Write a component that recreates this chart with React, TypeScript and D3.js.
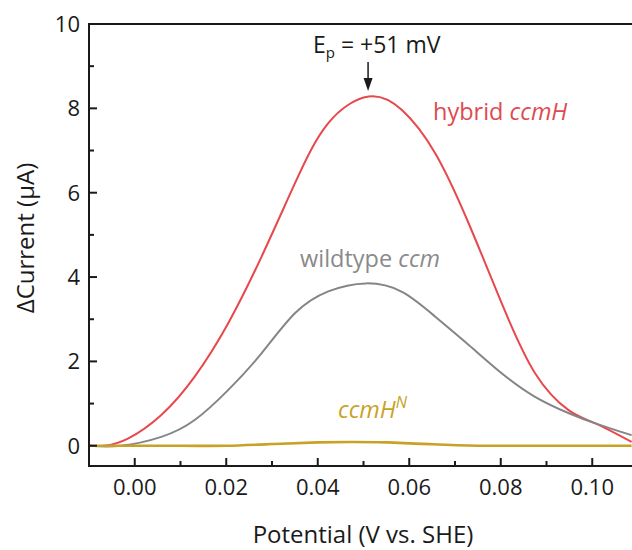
import React from "react";
import * as d3 from "d3";

// hybrid ccmH (red)
const hybridX = [-0.01, -0.0066, -0.0015, 0.0058, 0.0131, 0.0204, 0.0277, 0.035, 0.0423, 0.0511, 0.0584, 0.0657, 0.073, 0.0802, 0.0875, 0.0949, 0.1007, 0.1086];
const hybridY = [0, 0, 0.17, 0.73, 1.64, 2.9, 4.48, 6.22, 7.65, 8.28, 7.96, 6.93, 5.27, 3.38, 1.72, 0.84, 0.53, 0.09];
// wildtype ccm (gray)
const wildX = [-0.01, -0.003, 0.0058, 0.0131, 0.0204, 0.0277, 0.035, 0.0423, 0.0505, 0.0584, 0.0657, 0.073, 0.0802, 0.0875, 0.0949, 0.1007, 0.1086];
const wildY = [0, 0, 0.21, 0.61, 1.32, 2.19, 3.14, 3.66, 3.85, 3.65, 3.06, 2.39, 1.72, 1.16, 0.77, 0.53, 0.25];
// ccmH^N (gold)
const nX = [-0.01, 0.01, 0.02, 0.03, 0.04, 0.047, 0.055, 0.065, 0.075, 0.09, 0.1086];
const nY = [0, 0, 0, 0.04, 0.08, 0.09, 0.08, 0.035, 0, 0, 0];

const xMajor = [0, 0.02, 0.04, 0.06, 0.08, 0.1];
const xMinor = [0.01, 0.03, 0.05, 0.07, 0.09];
const yMajor = [0, 2, 4, 6, 8, 10];
const yMinor = [1, 3, 5, 7, 9];

const W = 632, H = 550;
const left = 89, top = 24, bottom = 466;
const font = "'Open Sans', 'Noto Sans', sans-serif";

export default function App() {
  const x = d3.scaleLinear().domain([-0.01, 0.11]).range([left, left + 0.12 * 4575]);
  const y = d3.scaleLinear().domain([-0.48, 10]).range([bottom, top]);
  const line = (xs: number[], ys: number[]) =>
    d3.line<number>().x((_, i) => x(xs[i])).y((v) => y(v)).curve(d3.curveNatural)(ys) || "";
  const peakX = x(0.051);
  return (
    <svg width={W} height={H} style={{ position: "absolute", left: 0, top: 0, background: "#fff" }} fontFamily={font}>
      <defs>
        <clipPath id="plot">
          <rect x={left} y={top} width={W - left} height={bottom - top} />
        </clipPath>
      </defs>
      <g clipPath="url(#plot)" fill="none">
        <path d={line(hybridX, hybridY)} stroke="#e8474c" strokeWidth={2} />
        <path d={line(wildX, wildY)} stroke="#858585" strokeWidth={2} />
        <path d={line(nX, nY)} stroke="#c9a225" strokeWidth={2.6} />
      </g>
      <g stroke="#1a1a1a" strokeWidth={2} fill="none">
        <line x1={left} y1={top} x2={W} y2={top} />
        <line x1={left} y1={top - 1} x2={left} y2={bottom + 1} />
        <line x1={left} y1={bottom} x2={W} y2={bottom} />
        {xMajor.map((t) => (
          <line key={"xM" + t} x1={x(t)} x2={x(t)} y1={bottom} y2={bottom - 8} />
        ))}
        {xMinor.map((t) => (
          <line key={"xm" + t} x1={x(t)} x2={x(t)} y1={bottom} y2={bottom - 5} />
        ))}
        {yMajor.map((t) => (
          <line key={"yM" + t} x1={left} x2={left + 8} y1={y(t)} y2={y(t)} />
        ))}
        {yMinor.map((t) => (
          <line key={"ym" + t} x1={left} x2={left + 5} y1={y(t)} y2={y(t)} />
        ))}
      </g>
      <g fontSize={22} fill="#1a1a1a">
        {xMajor.map((t) => (
          <text key={"xl" + t} x={x(t)} y={495} textAnchor="middle">{t.toFixed(2)}</text>
        ))}
        {yMajor.map((t) => (
          <text key={"yl" + t} x={80} y={y(t) + 8} textAnchor="end">{t}</text>
        ))}
      </g>
      <text x={363} y={543} textAnchor="middle" fontSize={24} fill="#1a1a1a">Potential (V vs. SHE)</text>
      <text transform={`translate(34,238) rotate(-90)`} textAnchor="middle" fontSize={24} fill="#1a1a1a">ΔCurrent (μA)</text>
      <text x={313} y={53} fontSize={23} fill="#1a1a1a">
        E<tspan fontSize={15} dy={5}>p</tspan><tspan dy={-5}> = +51 mV</tspan>
      </text>
      <line x1={peakX} x2={peakX} y1={62} y2={80} stroke="#1a1a1a" strokeWidth={1.5} />
      <path d={`M${peakX - 4.5},78 L${peakX + 4.5},78 L${peakX},91 Z`} fill="#1a1a1a" />
      <text x={433} y={120} fontSize={23.5} fill="#e04a4f">
        hybrid <tspan fontStyle="italic">ccmH</tspan>
      </text>
      <text x={300} y={267} fontSize={23.5} fill="#8a8a8a">
        wildtype <tspan fontStyle="italic">ccm</tspan>
      </text>
      <text x={338} y={418} fontSize={23.5} fill="#c9a225" fontStyle="italic">
        ccmH<tspan fontSize={16} dy={-10}>N</tspan>
      </text>
    </svg>
  );
}
